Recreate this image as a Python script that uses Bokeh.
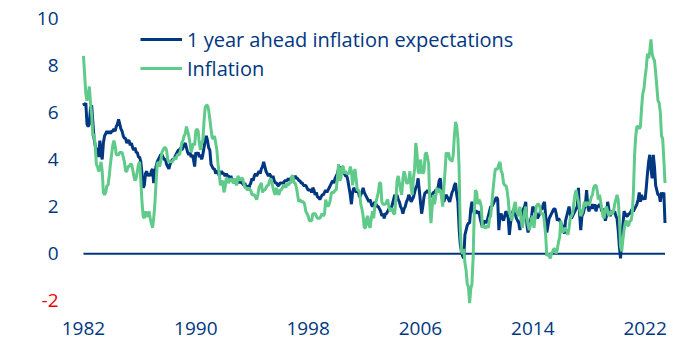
from bokeh.plotting import figure
from bokeh.models import Range1d, FixedTicker, Legend, LegendItem, LinearAxis
from bokeh.embed import file_html
from bokeh.resources import INLINE

start_year = 1982

expectations_by_year = [
    [6.4, 6.3, 6.4, 5.5, 5.4, 5.5, 6.2, 6.3, 5.6, 4.9, 4.6, 4.3],
    [4.5, 4.1, 4.8, 4.3, 4.0, 4.7, 5.0, 5.1, 5.2, 5.1, 5.2, 5.1],
    [5.2, 5.2, 5.3, 5.2, 5.4, 5.5, 5.7, 5.5, 5.3, 5.2, 5.0, 4.9],
    [4.9, 4.7, 4.8, 4.8, 4.6, 4.7, 4.5, 4.4, 4.5, 4.3, 4.3, 4.1],
    [4.1, 3.9, 3.4, 2.8, 2.9, 3.4, 3.5, 3.3, 3.4, 3.3, 3.5, 3.6],
    [3.0, 3.4, 3.7, 3.9, 4.0, 4.1, 4.2, 4.2, 4.1, 4.0, 4.0, 3.8],
    [3.7, 3.6, 3.8, 3.9, 4.0, 4.0, 4.1, 4.2, 4.3, 4.4, 4.4, 4.5],
    [4.4, 4.5, 4.6, 4.7, 4.5, 4.3, 4.2, 4.3, 4.1, 4.2, 4.0, 3.7],
    [4.3, 4.2, 4.3, 4.1, 4.2, 4.0, 4.2, 4.5, 4.8, 5.0, 4.8, 4.5],
    [4.4, 3.8, 3.7, 3.6, 3.6, 3.4, 3.5, 3.5, 3.3, 3.4, 3.5, 3.4],
    [3.4, 3.3, 3.4, 3.3, 3.3, 3.2, 3.3, 3.1, 3.1, 3.0, 3.1, 3.0],
    [3.1, 3.0, 3.1, 3.0, 3.0, 2.9, 3.0, 2.8, 2.9, 2.7, 2.9, 3.0],
    [3.2, 3.1, 3.3, 3.4, 3.3, 3.4, 3.5, 3.4, 3.6, 3.7, 3.9, 3.7],
    [3.5, 3.4, 3.3, 3.4, 3.3, 3.2, 3.3, 3.1, 3.0, 3.0, 2.9, 2.9],
    [3.0, 3.0, 3.0, 3.0, 3.1, 3.1, 3.1, 3.2, 3.1, 3.2, 3.2, 3.2],
    [3.2, 3.3, 3.2, 3.2, 3.1, 3.1, 3.0, 3.0, 2.9, 2.9, 2.9, 2.8],
    [2.7, 2.7, 2.7, 2.6, 2.8, 2.7, 2.5, 2.6, 2.4, 2.4, 2.3, 2.4],
    [2.5, 2.5, 2.6, 2.7, 2.6, 2.7, 2.8, 2.9, 3.0, 3.1, 3.0, 3.2],
    [3.3, 3.4, 3.6, 3.7, 3.6, 3.5, 3.5, 3.4, 3.3, 3.3, 3.1, 2.8],
    [2.5, 2.1, 2.6, 2.8, 2.7, 2.6, 2.7, 2.6, 2.4, 2.5, 2.6, 2.8],
    [2.6, 2.5, 2.4, 2.3, 2.2, 2.3, 2.1, 2.0, 2.1, 2.2, 2.1, 2.0],
    [2.0, 1.9, 1.8, 1.6, 1.7, 1.5, 1.7, 1.7, 1.8, 1.9, 2.0, 1.9],
    [2.1, 2.3, 2.5, 2.4, 2.5, 2.3, 2.2, 2.0, 1.9, 1.7, 1.9, 2.0],
    [2.2, 2.3, 2.5, 2.4, 2.2, 2.3, 2.4, 2.6, 2.8, 2.9, 3.2, 2.7],
    [2.2, 1.7, 2.0, 2.4, 2.6, 2.6, 2.7, 2.6, 2.5, 2.4, 2.5, 2.6],
    [2.6, 2.7, 2.7, 2.8, 3.1, 3.2, 2.6, 2.3, 2.2, 2.4, 2.5, 2.4],
    [2.3, 2.2, 2.4, 2.6, 2.7, 2.9, 3.0, 2.5, 2.2, 1.1, 0.4, 0.1],
    [-0.1, -0.2, 0.8, 1.0, 1.2, 1.3, 1.3, 1.9, 2.2, 1.9, 1.7, 1.8],
    [1.8, 1.7, 1.8, 1.5, 1.3, 1.1, 1.3, 1.4, 1.3, 1.4, 1.6, 1.8],
    [2.0, 2.0, 2.1, 2.2, 2.3, 2.4, 2.3, 1.0, 1.6, 1.7, 1.5, 1.4],
    [1.6, 1.8, 1.7, 1.5, 0.8, 1.3, 1.6, 1.8, 1.9, 1.7, 1.5, 1.4],
    [1.3, 1.0, 1.4, 1.8, 1.9, 2.0, 2.2, 1.2, 0.9, 1.3, 1.4, 1.6],
    [2.0, 1.9, 1.8, 1.7, 1.5, 1.6, 1.7, 1.9, 1.9, 2.1, 2.2, 1.6],
    [0.9, 1.2, 1.5, 1.6, 1.7, 1.8, 1.9, 1.9, 1.7, 1.4, 1.5, 1.4],
    [1.3, 1.2, 1.1, 0.85, 1.4, 1.6, 1.8, 2.0, 1.7, 1.5, 1.6, 1.7],
    [1.8, 1.9, 2.0, 2.8, 1.7, 1.0, 1.6, 1.7, 1.9, 2.1, 2.7, 2.0],
    [1.8, 2.0, 1.9, 2.1, 1.9, 2.1, 1.8, 2.0, 2.0, 2.1, 2.0, 1.8],
    [1.9, 1.8, 1.4, 1.6, 2.2, 1.9, 1.6, 1.7, 1.8, 1.7, 1.8, 1.6],
    [1.5, 1.0, 0.3, -0.2, 0.6, 1.2, 1.8, 1.7, 1.6, 1.6, 1.7, 1.7],
    [1.8, 1.9, 1.8, 1.9, 2.0, 2.1, 2.3, 2.6, 2.2, 2.5, 2.3, 2.4],
    [2.3, 2.8, 3.4, 3.9, 4.2, 3.6, 3.2, 4.2, 3.7, 2.9, 2.7, 2.5],
    [2.5, 2.2, 2.6, 2.4, 2.6, 1.3],
]

inflation_by_year = [
    [8.4, 7.6, 6.8, 6.5, 6.7, 7.1, 6.4, 5.9, 5.0, 5.1, 4.6, 3.8],
    [3.7, 3.5, 3.6, 3.9, 3.5, 2.6, 2.5, 2.6, 2.9, 2.9, 3.3, 3.8],
    [4.2, 4.6, 4.8, 4.6, 4.2, 4.2, 4.2, 4.3, 4.3, 4.3, 4.1, 3.9],
    [3.5, 3.5, 3.7, 3.7, 3.8, 3.8, 3.6, 3.3, 3.1, 3.2, 3.5, 3.8],
    [3.9, 3.1, 2.2, 1.6, 1.5, 1.8, 1.6, 1.6, 1.8, 1.5, 1.3, 1.1],
    [1.5, 2.1, 3.0, 3.8, 3.9, 3.7, 3.9, 4.3, 4.4, 4.5, 4.5, 4.4],
    [4.0, 3.9, 3.9, 3.9, 3.9, 4.0, 4.1, 4.0, 4.2, 4.2, 4.2, 4.4],
    [4.7, 4.8, 5.0, 5.1, 5.4, 5.2, 5.0, 4.7, 4.3, 4.5, 4.7, 4.6],
    [5.2, 5.3, 5.2, 4.7, 4.4, 4.7, 4.8, 5.6, 6.2, 6.3, 6.3, 6.1],
    [5.7, 5.3, 4.9, 4.9, 5.0, 4.7, 4.4, 3.8, 3.4, 2.9, 3.0, 3.1],
    [2.6, 2.8, 3.2, 3.2, 3.0, 3.1, 3.2, 3.1, 3.0, 3.2, 3.0, 2.9],
    [3.3, 3.2, 3.1, 3.2, 3.2, 3.0, 2.8, 2.8, 2.7, 2.8, 2.7, 2.7],
    [2.5, 2.5, 2.5, 2.4, 2.3, 2.5, 2.8, 2.9, 3.0, 2.6, 2.7, 2.7],
    [2.8, 2.9, 2.9, 3.1, 3.2, 3.0, 2.8, 2.6, 2.5, 2.8, 2.6, 2.5],
    [2.7, 2.7, 2.8, 2.9, 2.9, 2.8, 3.0, 2.9, 3.0, 3.0, 3.3, 3.3],
    [3.0, 3.0, 2.8, 2.5, 2.2, 2.3, 2.2, 2.2, 2.2, 2.1, 1.8, 1.7],
    [1.6, 1.4, 1.4, 1.4, 1.7, 1.7, 1.7, 1.6, 1.5, 1.5, 1.5, 1.6],
    [1.7, 1.6, 1.7, 2.3, 2.1, 2.0, 2.1, 2.3, 2.6, 2.6, 2.6, 2.7],
    [2.7, 3.2, 3.8, 3.1, 3.2, 3.7, 3.7, 3.4, 3.5, 3.4, 3.4, 3.4],
    [3.7, 3.5, 2.9, 3.3, 3.6, 3.2, 2.7, 2.7, 2.6, 2.1, 1.9, 1.6],
    [1.1, 1.1, 1.5, 1.6, 1.2, 1.1, 1.5, 1.8, 1.5, 2.0, 2.2, 2.4],
    [2.6, 3.0, 3.0, 2.2, 2.1, 2.1, 2.1, 2.2, 2.3, 2.0, 1.8, 1.9],
    [1.9, 1.7, 1.7, 2.3, 3.1, 3.3, 3.0, 2.7, 2.5, 3.2, 3.5, 3.3],
    [3.0, 3.0, 3.1, 3.5, 2.8, 2.5, 3.2, 3.6, 4.7, 4.3, 3.5, 3.4],
    [4.0, 3.6, 3.4, 3.5, 4.2, 4.3, 4.1, 3.8, 2.1, 1.3, 2.0, 2.5],
    [2.1, 2.4, 2.8, 2.6, 2.7, 2.7, 2.4, 2.0, 2.8, 3.5, 4.3, 4.1],
    [4.3, 4.0, 4.0, 3.9, 4.2, 5.0, 5.6, 5.4, 4.9, 3.7, 1.1, 0.1],
    [0.0, 0.2, -0.4, -0.7, -1.3, -1.4, -2.1, -1.5, -1.3, -0.2, 1.8, 2.7],
    [2.6, 2.1, 2.3, 2.2, 2.0, 1.1, 1.2, 1.1, 1.1, 1.2, 1.1, 1.5],
    [1.6, 2.1, 2.7, 3.2, 3.6, 3.6, 3.6, 3.8, 3.9, 3.5, 3.4, 3.0],
    [2.9, 2.9, 2.7, 2.3, 1.7, 1.7, 1.4, 1.7, 2.0, 2.2, 1.8, 1.7],
    [1.6, 2.0, 1.5, 1.1, 1.4, 1.8, 2.0, 1.5, 1.2, 1.0, 1.2, 1.5],
    [1.6, 1.1, 1.5, 2.0, 2.1, 2.1, 2.0, 1.7, 1.7, 1.7, 1.3, 0.8],
    [-0.1, 0.0, -0.1, -0.2, 0.0, 0.1, 0.2, 0.2, 0.0, 0.2, 0.5, 0.7],
    [1.4, 1.0, 0.9, 1.1, 1.0, 1.0, 0.8, 1.1, 1.5, 1.6, 1.7, 2.1],
    [2.5, 2.7, 2.4, 2.2, 1.9, 1.6, 1.7, 1.9, 2.2, 2.0, 2.2, 2.1],
    [2.1, 2.2, 2.4, 2.5, 2.8, 2.9, 2.9, 2.7, 2.3, 2.5, 2.2, 1.9],
    [1.6, 1.5, 1.9, 2.0, 1.8, 1.6, 1.8, 1.7, 1.7, 1.8, 2.1, 2.3],
    [2.5, 2.3, 1.5, 0.3, 0.1, 0.6, 1.0, 1.3, 1.4, 1.2, 1.2, 1.4],
    [1.4, 1.7, 2.6, 4.2, 5.0, 5.4, 5.4, 5.3, 5.4, 6.2, 6.8, 7.0],
    [7.5, 7.9, 8.5, 8.3, 8.6, 9.1, 8.5, 8.3, 8.2, 7.7, 7.1, 6.5],
    [6.4, 6.0, 5.0, 4.9, 4.0, 3.0],
]

x_ticks = [1982, 1990, 1998, 2006, 2014, 2022]
y_ticks_positive = [0, 2, 4, 6, 8, 10]
y_ticks_negative = [-2]
y_negative_labels = {-2: "-2"}
series_names = ["1 year ahead inflation expectations", "Inflation"]

NAVY = "#003781"
GREEN = "#5fca8a"
RED = "#ee0000"
FONT = "Open Sans"
FSIZE = "19px"

expectations = [v for yr in expectations_by_year for v in yr]
inflation = [v for yr in inflation_by_year for v in yr]
t = [start_year + i / 12 for i in range(len(inflation))]

# frame spans the full width; the y axes are pinned inside it
W, H = 696, 351
x_lo, x_hi = 1976.09, 2025.66
y_lo, y_hi = -2.5, 10.5
px_per_year = W / (x_hi - x_lo)
y_axis_x = x_lo + 66 / px_per_year

p = figure(width=W, height=H, output_backend="svg", toolbar_location=None,
           x_range=Range1d(x_lo, x_hi), y_range=Range1d(y_lo, y_hi),
           min_border_left=0, min_border_right=0, min_border_top=6, min_border_bottom=39)
p.outline_line_color = None
p.grid.visible = False
p.background_fill_color = "white"
p.border_fill_color = "white"

# zero line along the data span
p.line([t[0], t[-1]], [0, 0], line_color=NAVY, line_width=2)

r_exp = p.line(t, expectations, line_color=NAVY, line_width=3)
r_inf = p.line(t, inflation, line_color=GREEN, line_width=3)


def style_axis(ax, color):
    ax.axis_line_color = None
    ax.major_tick_line_color = None
    ax.minor_tick_line_color = None
    ax.major_tick_out = 0
    ax.major_tick_in = 0
    ax.minor_tick_out = 0
    ax.major_label_text_color = color
    ax.major_label_text_font = FONT
    ax.major_label_text_font_size = FSIZE


style_axis(p.xaxis[0], NAVY)
p.xaxis.ticker = FixedTicker(ticks=x_ticks)
p.xaxis.major_label_standoff = 9

style_axis(p.yaxis[0], NAVY)
p.yaxis.ticker = FixedTicker(ticks=y_ticks_positive)
p.yaxis.major_label_standoff = 8
p.yaxis.fixed_location = y_axis_x

neg_axis = LinearAxis(ticker=FixedTicker(ticks=y_ticks_negative), fixed_location=y_axis_x,
                      major_label_standoff=8, major_label_overrides=y_negative_labels)
style_axis(neg_axis, RED)
p.add_layout(neg_axis, "left")

legend = Legend(items=[LegendItem(label=series_names[0], renderers=[r_exp]),
                       LegendItem(label=series_names[1], renderers=[r_inf])],
                location=(140, 230), orientation="vertical",
                glyph_width=42, glyph_height=28, label_height=28, label_standoff=5,
                spacing=1, padding=0, margin=0,
                border_line_color=None, background_fill_alpha=0,
                label_text_color=NAVY, label_text_font=FONT, label_text_font_size="20px")
p.add_layout(legend)

open("out.html", "w").write(file_html(p, INLINE))
